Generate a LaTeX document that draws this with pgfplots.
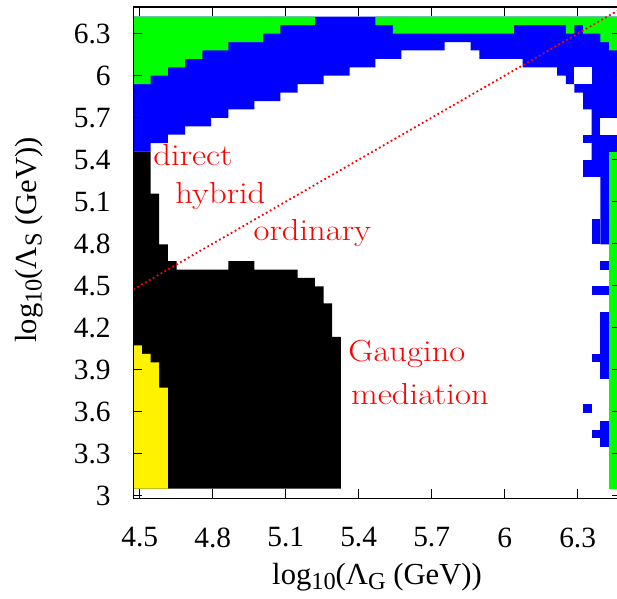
\documentclass[border=0pt]{standalone}
\usepackage{fontspec}
\newfontfamily\tnr{Liberation Serif}
\usepackage{graphicx}
\usepackage{pgfplots}
\usepackage{pgfplotstable}
\pgfplotsset{compat=1.18}

% grid cells: column i, row k  ->  log10 values
\pgfplotsset{table/cells/.style={x expr=4.4737+0.03555*\thisrow{i},y expr=3.05+0.0602*\thisrow{k}}}
\newcommand\cellbox[5]{\addplot[fill=#1,draw=none] table[cells,row sep=\\]{i k\\#2 #3\\#4 #3\\#4 #5\\#2 #5\\};}
\newcommand\sub[1]{\raisebox{-0.38ex}{\fontsize{12.2}{13}\selectfont #1}}
\newcommand\lbl[1]{\scalebox{1.14}[1]{#1}}

\pgfplotstableread{
i k
0 56
0 40
2 40
2 41
4 41
4 42
6 42
6 43
9 43
9 44
11 44
11 45
14 45
14 46
17 46
17 47
19 47
19 48
22 48
22 49
25 49
25 50
28 50
28 51
31 51
31 52
36 52
36 53
39 53
39 52
40 52
40 51
45 51
45 50
49 50
49 49
50 49
50 48
51 48
51 47
52 47
52 45
53 45
53 37
54 37
54 29
56 29
56 56
}\bluetop

\pgfplotstableread{
i k
0 56
0 48
2 48
2 49
4 49
4 50
6 50
6 51
8 51
8 52
11 52
11 53
15 53
15 54
17 54
17 55
21 55
21 56
}\greenleft

\pgfplotstableread{
i k
28 56
28 55
30 55
30 54
44 54
44 55
50 55
50 54
51 54
51 55
52 55
52 54
54 54
54 53
55 53
55 52
56 52
56 56
}\greenright

\pgfplotstableread{
i k
0 0
0 40
2 40
2 35
3 35
3 29
4 29
4 27
5 27
5 26
11 26
11 27
14 27
14 26
19 26
19 25
21 25
21 24
22 24
22 22
23 22
23 18
24 18
24 0
}\blackreg

\pgfplotstableread{
i k
0 0
0 17
1 17
1 16
2 16
2 15
3 15
3 12
4 12
4 0
}\yellowreg

\begin{document}
\begin{tikzpicture}
\begin{axis}[
  name=ax,
  scale only axis,
  width=243.7pt, height=245.75pt,
  xmin=4.4737, xmax=6.477,
  ymin=2.98, ymax=6.4907,
  axis on top,
  axis line style={line width=0.6pt},
  every tick/.style={black,line width=0.6pt},
  major tick length=4.5pt,
  xtick={4.5,4.8,5.1,5.4,5.7,6,6.3},
  ytick={3,3.3,3.6,3.9,4.2,4.5,4.8,5.1,5.4,5.7,6,6.3},
  /pgf/number format/assume math mode=true,
  tick label style={font=\tnr\fontsize{14.7}{17}\selectfont},
  xticklabel style={yshift=-11pt},
  yticklabel style={xshift=-7.8pt},
  xlabel={log\sub{10}(Λ\sub{G} (GeV))},
  ylabel={log\sub{10}(Λ\sub{S} (GeV))},
  label style={font=\tnr\fontsize{15.3}{17}\selectfont},
  xlabel style={at={(axis description cs:0.5,-0.16)},anchor=center},
  ylabel style={at={(axis description cs:-0.214,0.526)},anchor=center},
  clip=false,
]
\addplot[fill=blue,draw=none] table[cells]{\bluetop};
\cellbox{white}{51}{48}{53}{50}
\cellbox{white}{54}{42}{56}{44}
\addplot[fill=green,draw=none] table[cells]{\greenleft};
\addplot[fill=green,draw=none] table[cells]{\greenright};
\addplot[fill=black,draw=none] table[cells]{\blackreg};
\addplot[fill=yellow,draw=none] table[cells]{\yellowreg};
\cellbox{green}{55}{0}{56}{40}
\cellbox{blue}{52}{41}{53}{42}
\cellbox{blue}{52}{37}{53}{39}
\cellbox{blue}{53}{29}{54}{32}
\cellbox{blue}{54}{26}{55}{27}
\cellbox{blue}{53}{23}{55}{24}
\cellbox{blue}{54}{13}{55}{21}
\cellbox{blue}{53}{15}{54}{16}
\cellbox{blue}{52}{9}{53}{10}
\cellbox{blue}{54}{5}{55}{8}
\cellbox{blue}{53}{6}{54}{7}
% log Lambda_S = log Lambda_G
\addplot[red,line width=0.9pt,dash pattern=on 0.9pt off 1.35pt] coordinates {(4.4737,4.4737) (6.477,6.477)};
\begin{scope}[every node/.style={anchor=base west,inner sep=0pt,text=red,font=\fontsize{15.2}{18}\selectfont}]
\node at (axis cs:4.5547,5.3586) {\lbl{direct}};
\node at (axis cs:4.6451,5.0836) {\lbl{hybrid}};
\node at (axis cs:4.9669,4.8193) {\lbl{ordinary}};
\node at (axis cs:5.3562,3.962) {\lbl{Gaugino}};
\node at (axis cs:5.3672,3.648) {\lbl{mediation}};
\end{scope}
\end{axis}
\pgfresetboundingbox
\path ([shift={(-66.65pt,-50.25pt)}]ax.south west) rectangle ([shift={(241.85pt,249.25pt)}]ax.south west);
\end{tikzpicture}
\end{document}
